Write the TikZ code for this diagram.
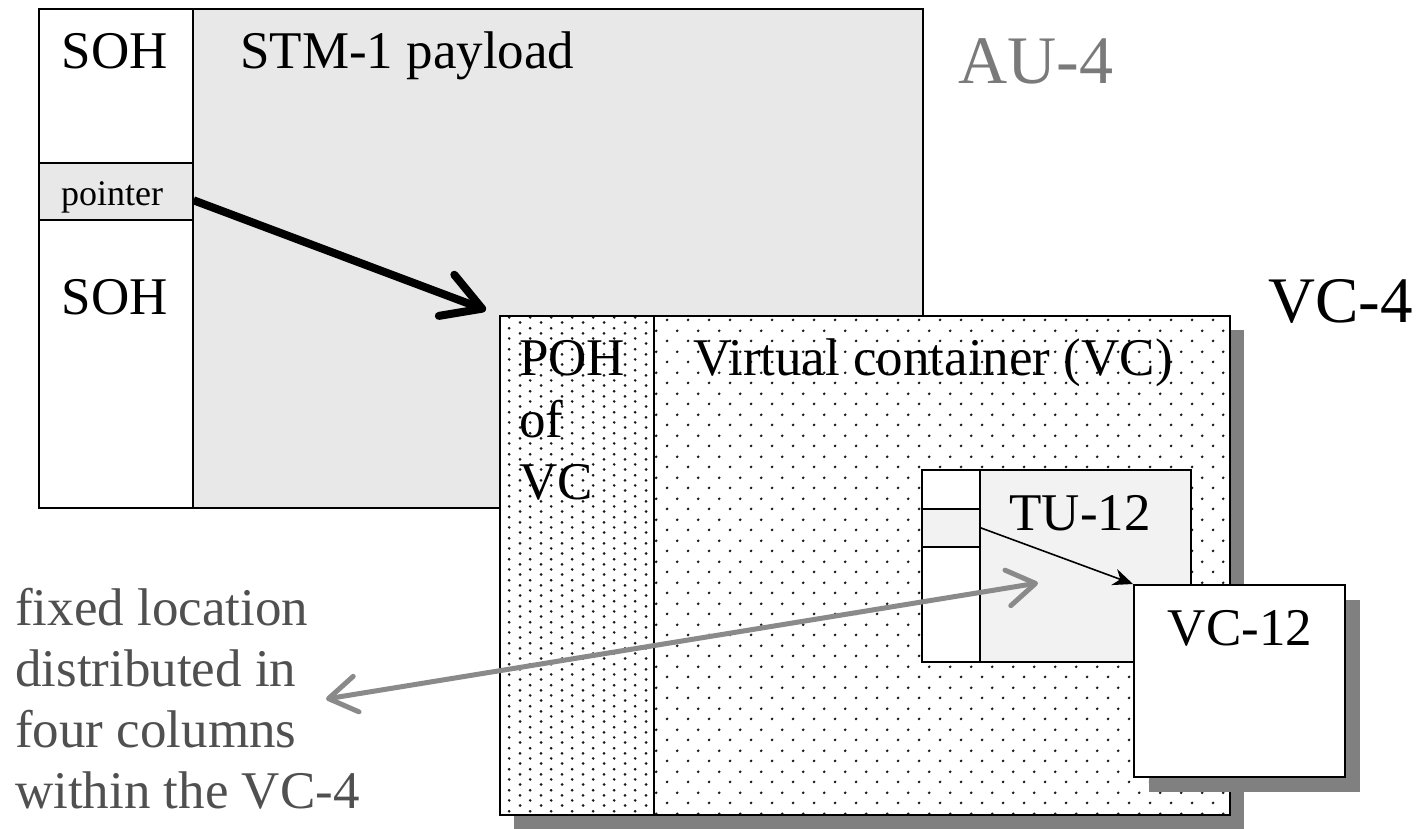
\documentclass[tikz,border=0pt]{standalone}
\usepackage{fontspec}
\setmainfont{Liberation Serif}
\usetikzlibrary{arrows.meta, patterns.meta}

% Dot fills of the containers.
\tikzdeclarepattern{
  name=dotsfive,
  type=uncolored,
  bounding box={(0pt,0pt) and (20.6pt,20.6pt)},
  tile size={(20.6pt,20.6pt)},
  code={
    \fill (5.15pt,5.15pt) circle (1.5pt);
    \fill (15.45pt,15.45pt) circle (1.5pt);
  }
}
\tikzdeclarepattern{
  name=dotsten,
  type=uncolored,
  bounding box={(0pt,0pt) and (20.6pt,20.6pt)},
  tile size={(20.6pt,20.6pt)},
  code={
    \fill (5.15pt,2.575pt) circle (1.5pt);
    \fill (15.45pt,7.725pt) circle (1.5pt);
    \fill (5.15pt,12.875pt) circle (1.5pt);
    \fill (15.45pt,18.025pt) circle (1.5pt);
  }
}

\tikzset{
  every node/.style={font=\fontsize{53}{62}\selectfont, inner sep=0pt},
  box/.style={draw, line width=1.6pt, rectangle, anchor=north west},
  shade/.style={fill=shadowgray, rectangle, anchor=north west},
  txt/.style={anchor=base west},
  mid/.style={anchor=base}
}

\begin{document}
\begin{tikzpicture}[x=1pt, y=-1pt, >=Stealth]
  % Colors picked from the slide.
  \definecolor{payloadgray}{HTML}{E8E8E8}
  \definecolor{tugray}{HTML}{F2F2F2}
  \definecolor{shadowgray}{HTML}{808080}
  \definecolor{augray}{HTML}{7A7A7A}
  \definecolor{notegray}{HTML}{505050}
  \definecolor{linkgray}{HTML}{8A8A8A}

  \useasboundingbox (0,0) rectangle (1422,828);

  % AU-4 frame.
  \node[box, fill=payloadgray, minimum width=730pt, minimum height=499pt] (payload) at (192,8) {};
  \node[box, fill=white, minimum width=154pt, minimum height=499pt] (soh) at (38,8) {};
  \node[box, fill=payloadgray, minimum width=154pt, minimum height=57pt] (ptr) at (38,162) {};

  \node[mid] (sohtop) at (115,68) {SOH};
  \node[mid] (sohbot) at (115,314) {SOH};
  \node[mid, font=\fontsize{36}{40}\selectfont] (ptrtext) at (112,205) {pointer};
  \node[txt] (stm) at (240,68) {STM-1 payload};
  \node[txt, font=\fontsize{68}{70}\selectfont, text=augray] (aufour) at (958,83) {AU-4};

  % VC-4 with its shadow.
  \node[shade, minimum width=730pt, minimum height=499pt] (vcfourshadow) at (514,330) {};
  \node[box, preaction={fill=white}, pattern=dotsfive, pattern color=black!90,
        minimum width=730pt, minimum height=499pt] (vcfour) at (499,315) {};
  \node[box, preaction={fill=white}, pattern=dotsten, pattern color=black!90,
        minimum width=154pt, minimum height=499pt] (poh) at (499,315) {};

  \node[txt, font=\fontsize{65}{70}\selectfont] (vcfourtext) at (1268,322) {VC-4};
  \foreach \word [count=\i] in {POH, of, VC}
    \node[txt] (poh-\i) at (519,313+62*\i) {\word};
  \node[txt] (vctext) at (693,375) {Virtual container (VC)};

  % Pointer from the section overhead to the VC-4.
  \draw[-{Straight Barb[length=38pt, width=44pt, round]}, line width=8pt, shorten >=14pt]
    ([yshift=-9pt]ptr.east) -- (vcfour.north west);

  % TU-12 inside the VC-4.
  \node[box, fill=tugray, minimum width=269pt, minimum height=192pt] (tu) at (921,469) {};
  \node[box, fill=white, minimum width=58pt, minimum height=192pt] (tucol) at (921,469) {};
  \node[box, fill=tugray, minimum width=58pt, minimum height=38pt] (tuptr) at (921,508) {};
  \node[mid] (tutext) at (1080,530) {TU-12};

  % VC-12 with its shadow.
  \node[shade, minimum width=211pt, minimum height=192pt] (vctwelveshadow) at (1149,600) {};
  \node[box, fill=white, minimum width=211pt, minimum height=192pt] (vctwelve) at (1133,584) {};
  \node[mid] (vctwelvetext) at (1240,645) {VC-12};

  % Pointer of the TU-12.
  \draw[-{Stealth[length=20pt, width=17pt]}, line width=1.6pt]
    (tuptr.east) -- (vctwelve.north west);

  % Note on the fixed columns.
  \foreach \line [count=\i] in {fixed location, distributed in, four columns, within the VC-4}
    \node[txt, text=notegray] (note-\i) at (15,564+61*\i) {\line};

  \coordinate (notetip) at (326,699);
  \coordinate (coltip) at (1038,583);
  \draw[{Straight Barb[length=28pt, width=36pt, round]}-{Straight Barb[length=28pt, width=36pt, round]},
        line width=5pt, linkgray] (notetip) -- (coltip);
\end{tikzpicture}
\end{document}
